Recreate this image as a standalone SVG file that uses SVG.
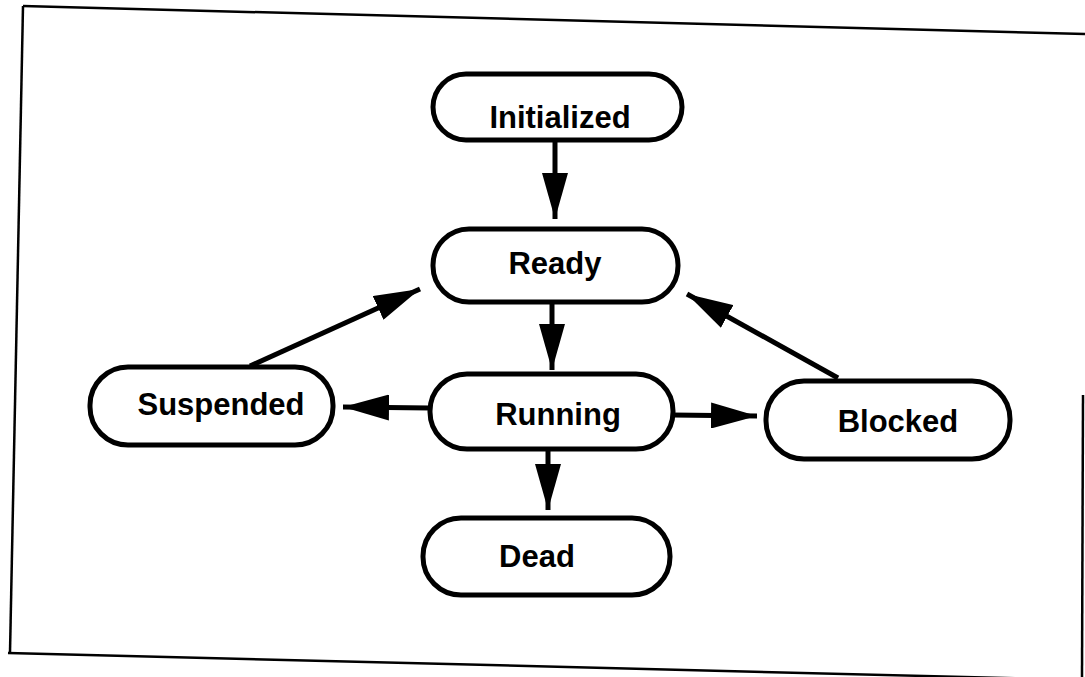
<svg xmlns="http://www.w3.org/2000/svg" width="1085" height="677" viewBox="0 0 1085 677">
  <style>
    .node { fill: #ffffff; stroke: #000000; stroke-width: 5; }
    .label { font-family: "Liberation Sans", Arial, sans-serif; font-weight: bold; font-size: 31px; fill: #000000; text-anchor: middle; }
    .edge { stroke: #000000; stroke-width: 5; fill: none; marker-end: url(#arrow); }
    .frame { stroke: #000000; stroke-width: 2.5; fill: none; }
  </style>
  <defs>
    <marker id="arrow" viewBox="0 0 46 26" refX="46" refY="13" markerWidth="46" markerHeight="26" markerUnits="userSpaceOnUse" orient="auto">
      <path d="M0,0 L46,13 L0,26 z" fill="#000000"/>
    </marker>
  </defs>
  <rect width="1085" height="677" fill="#ffffff"/>
  <g id="frame">
    <line class="frame" x1="23" y1="6" x2="1085" y2="34"/>
    <line class="frame" x1="23" y1="6" x2="10" y2="653"/>
    <line class="frame" x1="8" y1="653" x2="1085" y2="680"/>
    <line class="frame" x1="1083" y1="395" x2="1082" y2="677"/>
  </g>
  <g id="connectors">
    <line class="edge" x1="555" y1="140" x2="555" y2="219"/>
    <line class="edge" x1="552" y1="302" x2="552" y2="370"/>
    <line class="edge" x1="548" y1="450" x2="548" y2="510"/>
    <line class="edge" x1="430" y1="408" x2="343" y2="407"/>
    <line class="edge" x1="672" y1="415" x2="757" y2="416"/>
    <line class="edge" x1="250" y1="366" x2="420" y2="289"/>
    <line class="edge" x1="838" y1="378" x2="687" y2="294"/>
  </g>
  <g id="initialized">
    <rect class="node" x="433" y="74" width="249" height="66" rx="33" ry="33"/>
    <text class="label" x="560" y="128">Initialized</text>
  </g>
  <g id="ready">
    <rect class="node" x="433" y="229" width="245" height="73" rx="36" ry="36"/>
    <text class="label" x="555" y="274">Ready</text>
  </g>
  <g id="suspended">
    <rect class="node" x="90" y="367" width="243" height="78" rx="38" ry="38"/>
    <text class="label" x="221" y="415">Suspended</text>
  </g>
  <g id="running">
    <rect class="node" x="430" y="374" width="243" height="75" rx="37" ry="37"/>
    <text class="label" x="558" y="425">Running</text>
  </g>
  <g id="blocked">
    <rect class="node" x="766" y="381" width="244" height="78" rx="38" ry="38"/>
    <text class="label" x="898" y="432">Blocked</text>
  </g>
  <g id="dead">
    <rect class="node" x="423" y="518" width="247" height="77" rx="38" ry="38"/>
    <text class="label" x="537" y="567">Dead</text>
  </g>
</svg>
